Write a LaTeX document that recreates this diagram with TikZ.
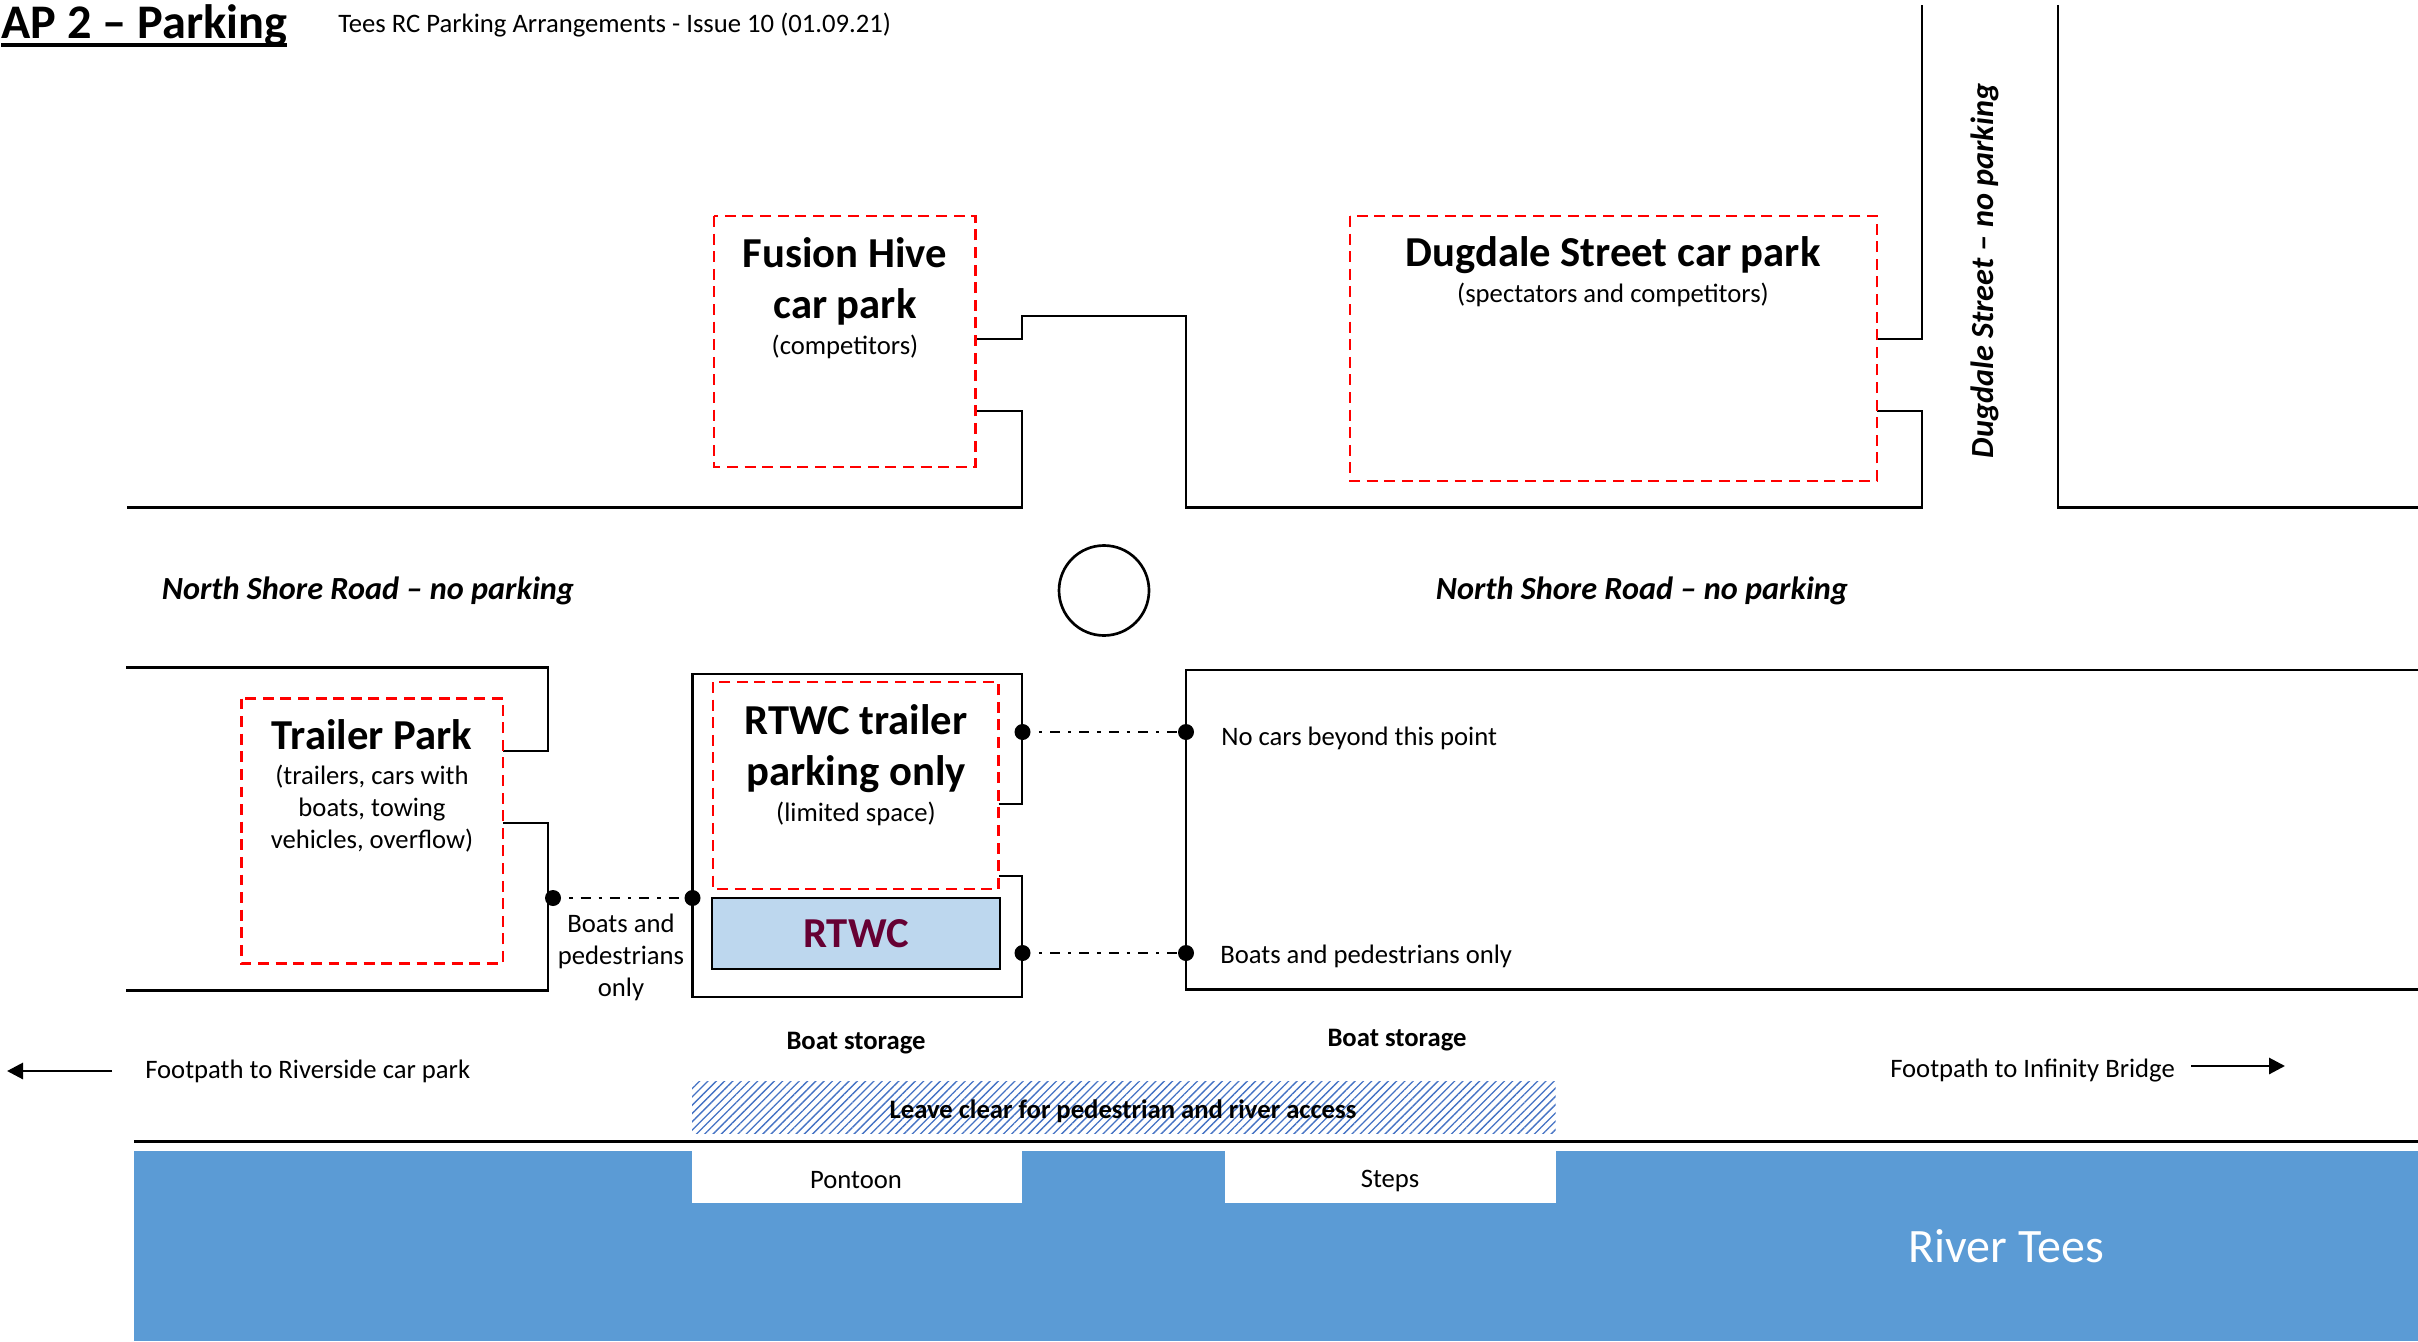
\documentclass[tikz,border=0pt]{standalone}
\usepackage{fontspec}
\setmainfont{Carlito}
\usetikzlibrary{patterns.meta,arrows.meta}
\definecolor{redline}{HTML}{FF0000}
\definecolor{water}{HTML}{5B9BD5}
\definecolor{roomblue}{HTML}{BDD7EE}
\definecolor{rtwcred}{HTML}{660033}
\definecolor{hatchblue}{HTML}{4472C4}
\newcommand{\subtxt}{\fontsize{20}{24}\selectfont\mdseries}
\tikzset{
  wall/.style={draw=black,line width=2.1pt,line join=miter},
  parkzone/.style={draw=redline,line width=2.2pt,dash pattern=on 8.2pt off 5pt},
  headtxt/.style={align=center,inner sep=0pt,font=\fontsize{32}{38.25}\selectfont\bfseries},
  plain/.style={inner sep=0pt,font=\fontsize{20}{24}\selectfont},
  boldlab/.style={inner sep=0pt,font=\fontsize{20}{24}\selectfont\bfseries},
  roadlab/.style={inner sep=0pt,font=\fontsize{24.2}{28}\selectfont\bfseries\itshape},
  joint/.style={circle,fill=black,inner sep=0pt,minimum size=12pt},
  link/.style={line width=1.8pt,dash pattern=on 7.5pt off 6pt on 2.5pt off 6pt,dash phase=7.5pt},
  footarrow/.style={line width=2.2pt,-{Triangle[length=12pt,width=12pt]}}
}
\begin{document}
\begin{tikzpicture}[x=0.75pt,y=-0.75pt]
\useasboundingbox (0,0) rectangle (2418,1341);
\fill[white] (0,0) rectangle (2418,1341);

% river
\fill[water] (134,1151) rectangle (2418,1341);
\fill[white] (692,1151) rectangle (1022,1203);
\fill[white] (1225,1151) rectangle (1555.5,1203);
\draw[line width=2.6pt] (134,1141.5) -- (2418,1141.5);
\fill[pattern={Lines[angle=45,distance=4.4pt,line width=1pt]},pattern color=hatchblue] (692,1081) rectangle (1555.5,1133);

% north side walls
\draw[wall] (127,507.5) -- (1022,507.5) -- (1022,411) -- (976,411);
\draw[wall] (976,339) -- (1022,339) -- (1022,316) -- (1186,316) -- (1186,507.5) -- (1922,507.5) -- (1922,411) -- (1877,411);
\draw[wall] (1877,339) -- (1922,339) -- (1922,5);
\draw[wall] (2058,5) -- (2058,507.5) -- (2418,507.5);

% roundabout
\draw[line width=2pt] (1104,590.5) circle[radius=45];

% south side walls
\draw[wall] (126,667.5) -- (548,667.5) -- (548,751) -- (503,751);
\draw[wall] (503,823) -- (548,823) -- (548,990.5) -- (126,990.5);
\draw[wall] (998.5,804) -- (1022,804) -- (1022,674) -- (692.5,674) -- (692.5,997) -- (1022,997) -- (1022,876) -- (998.5,876);
\draw[wall] (2418,670) -- (1186,670) -- (1186,989.5) -- (2418,989.5);

% parking zones
\draw[parkzone] (714,216) rectangle (975.5,467);
\draw[parkzone] (1350,216) rectangle (1877,481);
\draw[parkzone] (241.5,698.5) rectangle (503,963.5);
\draw[parkzone] (713,682) rectangle (998.5,889);

% RTWC building
\node[draw=black,line width=1.4pt,fill=roomblue,minimum width=216pt,minimum height=53.25pt,inner sep=0pt,
  font=\fontsize{32}{34}\selectfont\bfseries,text=rtwcred] (rtwc) at (856,933.5) {\raisebox{-2pt}{RTWC}};

% joints and links
\node[joint] (j1) at (553,898) {};
\node[joint] (j2) at (692.5,898) {};
\node[joint] (j3) at (1022.5,732) {};
\node[joint] (j4) at (1186,732) {};
\node[joint] (j5) at (1022.5,953) {};
\node[joint] (j6) at (1186,953) {};
\draw[link] (j1) -- (j2);
\draw[link] (j3) -- (j4);
\draw[link] (j5) -- (j6);

% headings
\node[anchor=west,inner sep=0pt,font=\fontsize{36.2}{40}\selectfont\bfseries] (title) at (1,26) {AP 2 – Parking};
\draw[line width=2.6pt] (title.south west |- 0,45) -- (title.south east |- 0,45);
\node[anchor=west,plain] (issue) at (338,25) {Tees RC Parking Arrangements - Issue 10 (01.09.21)};

\node[headtxt] (fusion) at (845,298) {Fusion Hive\\car park\\[-11.6pt]\subtxt (competitors)};
\node[headtxt] (dugdale) at (1613,272) {Dugdale Street car park\\[-11pt]\subtxt (spectators and competitors)};
\node[headtxt] (trailer) at (372,786) {Trailer Park\\[-11.6pt]\subtxt (trailers, cars with\\[-14.25pt]\subtxt boats, towing\\[-14.25pt]\subtxt vehicles, overflow)};
\node[headtxt] (rtwctrailer) at (856,765) {RTWC trailer\\parking only\\[-11.6pt]\subtxt (limited space)};

% road labels
\node[roadlab] (road1) at (368,591) {North Shore Road – no parking};
\node[roadlab] (road2) at (1642,591) {North Shore Road – no parking};
\node[roadlab,rotate=90] (road3) at (1985,271) {Dugdale Street – no parking};

% small labels
\node[plain,align=center] (bp1) at (621,957) {Boats and\\pedestrians\\only};
\node[plain,anchor=west] (nocars) at (1221,738) {No cars beyond this point};
\node[plain,anchor=west] (bp2) at (1220,956) {Boats and pedestrians only};
\node[boldlab] (store1) at (856,1043) {Boat storage};
\node[boldlab] (store2) at (1397,1040) {Boat storage};
\node[boldlab] (clear) at (1123,1111) {Leave clear for pedestrian and river access};
\node[plain,anchor=west] (foot1) at (145,1071) {Footpath to Riverside car park};
\node[plain,anchor=west] (foot2) at (1890,1071) {Footpath to Infinity Bridge};
\node[plain] (pontoon) at (856,1180) {Pontoon};
\node[plain] (steps) at (1390,1181) {Steps};
\node[inner sep=0pt,text=white,font=\fontsize{36}{40}\selectfont] (river) at (2006,1246) {River Tees};

% footpath arrows
\coordinate (a1s) at (112,1071);
\coordinate (a1e) at (7,1071);
\coordinate (a2s) at (2191,1066);
\coordinate (a2e) at (2285,1066);
\draw[footarrow] (a1s) -- (a1e);
\draw[footarrow] (a2s) -- (a2e);
\end{tikzpicture}
\end{document}
